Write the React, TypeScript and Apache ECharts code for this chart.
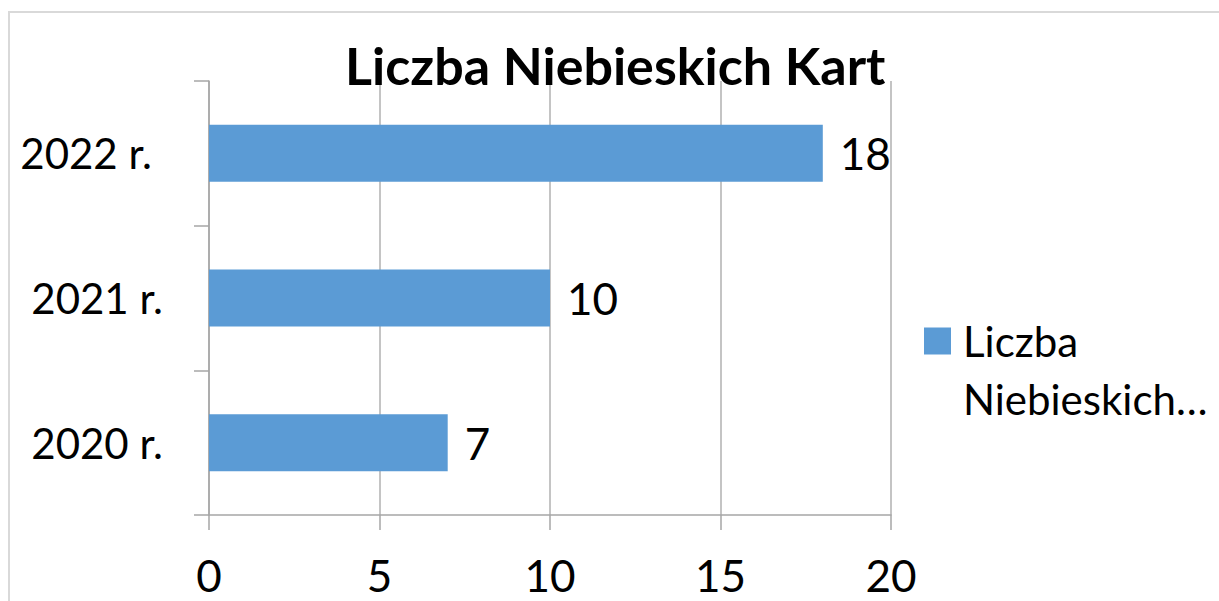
import React, { useEffect, useRef } from "react";
import * as echarts from "echarts";

const categories = ["2020 r.", "2021 r.", "2022 r."];
const values = [7, 10, 18];
const seriesName = "Liczba Niebieskich Kart";
const xTicks = { min: 0, max: 20, interval: 5 };

export default function App() {
  const ref = useRef<HTMLDivElement>(null);
  useEffect(() => {
    if (!ref.current) return;
    const chart = echarts.init(ref.current, null, { renderer: "svg" });
    const font = "Lato";
    chart.setOption({
      animation: false,
      backgroundColor: "#ffffff",
      title: {
        text: "Liczba Niebieskich Kart",
        left: 340,
        top: 34,
        textStyle: { fontFamily: font, fontWeight: "bold", fontSize: 52, color: "#000" },
      },
      legend: {
        left: 919,
        top: 249,
        orient: "vertical",
        icon: "rect",
        itemWidth: 27,
        itemHeight: 27,
        itemGap: 12,
        formatter: () => " \nLiczba\nNiebieskich…",
        textStyle: {
          fontFamily: font,
          fontSize: 42,
          color: "#000",
          lineHeight: 58,
          padding: [0, 0, 0, 7],
        },
      },
      graphic: [
        {
          type: "rect",
          shape: { x: 9, y: 12, width: 1400, height: 800 },
          style: { fill: "none", stroke: "#D9D9D9", lineWidth: 2 },
          silent: true,
        },
      ],
      grid: { left: 209, right: 328, top: 81, bottom: 86, containLabel: false },
      xAxis: {
        type: "value",
        min: xTicks.min,
        max: xTicks.max,
        interval: xTicks.interval,
        axisLine: { show: true, lineStyle: { color: "#A6A6A6", width: 1.5 } },
        axisTick: { show: true, length: 15, lineStyle: { color: "#A6A6A6", width: 1.5 } },
        splitLine: { show: true, lineStyle: { color: "#B0B0B0", width: 1.5 } },
        axisLabel: { fontFamily: font, fontSize: 44, color: "#000", margin: 38 },
      },
      yAxis: {
        type: "category",
        data: categories,
        axisLine: { show: true, lineStyle: { color: "#A6A6A6", width: 1.5 } },
        axisTick: { show: true, length: 15, lineStyle: { color: "#A6A6A6", width: 1.5 } },
        axisLabel: {
          fontFamily: font,
          fontSize: 42,
          color: "#000",
          margin: 46,
          formatter: (v: string) => (v === "2022 r." ? `{b|${v}}` : `{a|${v}}`),
          rich: {
            a: { fontFamily: font, fontSize: 42, color: "#000" },
            b: { fontFamily: font, fontSize: 42, color: "#000", padding: [0, 11, 0, 0] },
          },
        },
      },
      series: [
        {
          name: seriesName,
          type: "bar",
          data: values,
          barWidth: 57,
          itemStyle: { color: "#5B9BD5" },
          label: {
            show: true,
            position: "right",
            distance: 17,
            fontFamily: font,
            fontSize: 44,
            color: "#000",
          },
        },
      ],
    });
    return () => chart.dispose();
  }, []);
  return (
    <div
      ref={ref}
      style={{ position: "absolute", left: 0, top: 0, width: 1219, height: 601 }}
    />
  );
}
